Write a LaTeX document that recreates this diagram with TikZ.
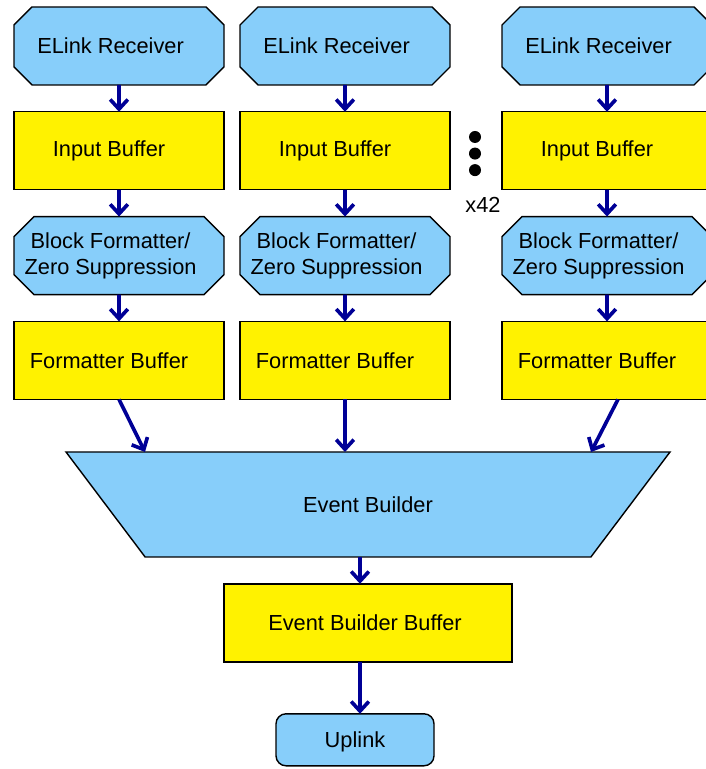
\documentclass[tikz,border=0pt]{standalone}
\usepackage{fontspec}
\setmainfont{Liberation Sans}
\usetikzlibrary{positioning,shapes.misc,shapes.geometric,arrows.meta}
\definecolor{linkblue}{RGB}{135,206,250}
\definecolor{flownavy}{RGB}{0,0,150}
\tikzset{
    receiver/.style={chamfered rectangle,chamfered rectangle xsep=0.25cm,chamfered rectangle ysep=0.25cm,draw,line width=1pt,fill=linkblue,minimum width=5.25cm,minimum height=1.95cm,inner sep=0pt,outer sep=0pt,execute at begin node={\hspace*{-0.42cm}}},
    buffer/.style={rectangle,draw,line width=1pt,fill=yellow,minimum width=5.25cm,minimum height=1.95cm,inner sep=0pt,outer sep=0pt,execute at begin node={\hspace*{-0.5cm}}},
    builder/.style={trapezium,trapezium left angle=127,trapezium right angle=127,trapezium stretches body=true,draw,line width=1pt,fill=linkblue,minimum width=15.1cm,text height=0.4cm,text depth=0cm,inner xsep=0pt,inner ysep=1.1125cm,outer sep=0pt},
    flow/.style={every edge/.append style={->,draw=flownavy,line width=2.6pt}},
    dot/.style={circle,fill=black,inner sep=0pt,minimum size=0.3cm},
}

\begin{document}
\begin{tikzpicture}[>={Straight Barb[length=0.24cm,width=0.44cm]},node distance=0.67cm,font=\fontsize{15.5}{18.5}\selectfont]
        \useasboundingbox (0,0) rectangle (17.65,19.225);

        % first chain
        \node[receiver] (er1) at (2.975,18.075) {ELink Receiver};
        \node[buffer] (ib1) [below=of er1] {Input Buffer};
        \node[receiver,align=center] (bf1) [below=of ib1] {Block Formatter/\\Zero Suppression};
        \node[buffer] (fb1) [below=of bf1] {Formatter Buffer};

        % second chain
        \node[receiver] (er2) [right=0.4cm of er1] {ELink Receiver};
        \node[buffer] (ib2) [below=of er2] {Input Buffer};
        \node[receiver,align=center] (bf2) [below=of ib2] {Block Formatter/\\Zero Suppression};
        \node[buffer] (fb2) [below=of bf2] {Formatter Buffer};

        % last chain
        \node[receiver] (er3) [right=1.3cm of er2] {ELink Receiver};
        \node[buffer] (ib3) [below=of er3] {Input Buffer};
        \node[receiver,align=center] (bf3) [below=of ib3] {Block Formatter/\\Zero Suppression};
        \node[buffer] (fb3) [below=of bf3] {Formatter Buffer};

        % the chains left out
        \node[dot] (d1) at (11.875,15.8) {};
        \node[dot] (d2) [below=0.1cm of d1] {};
        \node[dot] (d3) [below=0.1cm of d2] {};
        \node (n42) at (12.075,14.1) {x42};

        \node[builder] (eb) at (9.2,6.6125) {Event Builder};
        \node[buffer,minimum width=7.2cm,execute at begin node={\hspace*{0.35cm}}] (ebb) [below=of eb] {Event Builder Buffer};
        \node[rectangle,rounded corners=0.25cm,draw,line width=1pt,fill=linkblue,minimum width=3.95cm,minimum height=1.3cm,inner sep=0pt,outer sep=0pt,text depth=0pt] (up) [below=1.3cm of ebb,xshift=-0.325cm] {Uplink};

        \path[flow]
            (er1) edge (ib1)
            (ib1) edge (bf1)
            (bf1) edge (fb1)
            (er2) edge (ib2)
            (ib2) edge (bf2)
            (bf2) edge (fb2)
            (er3) edge (ib3)
            (ib3) edge (bf3)
            (bf3) edge (fb3)
            (fb1.south) edge ([xshift=0.65cm]fb1.south |- eb.north)
            (fb2.south) edge (fb2.south |- eb.north)
            ([xshift=0.275cm]fb3.south) edge ([xshift=-0.4cm]fb3.south |- eb.north)
            ([xshift=-0.2cm]eb.south) edge ([xshift=-0.2cm]eb.south |- ebb.north)
            ([xshift=-0.2cm]ebb.south) edge ([xshift=-0.2cm]ebb.south |- up.north)
            ;
\end{tikzpicture}
\end{document}
